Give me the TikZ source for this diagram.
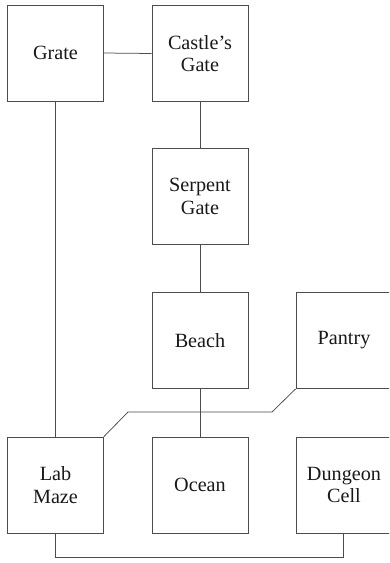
\documentclass[tikz,border=0pt]{standalone}
\usepackage{fontspec}
\setmainfont{Liberation Serif}
\begin{document}
\begin{tikzpicture}[x=1pt,y=-1pt,
  room/.style={draw=black!70, line width=0.75pt, minimum width=96pt, minimum height=96pt,
    inner sep=0pt, align=center, text=black!90, font=\fontsize{20.2}{22.5}\selectfont},
  link/.style={draw=black!70, line width=0.75pt}]
\useasboundingbox (0,0) rectangle (389,563);
\fill[white] (0,0) rectangle (389,563);
\clip (0,0) rectangle (389,563);
\node[room] (grate) at (55.5,53) {Grate};
\node[room] (castle) at (200,53.5) {Castle's\\Gate};
\node[room] (serpent) at (200,196.5) {Serpent\\Gate};
\node[room] (beach) at (200,340.5) {Beach};
\node[room] (pantry) at (344,340.5) {Pantry};
\node[room] (lab) at (55.5,485) {Lab\\Maze};
\node[room] (ocean) at (200,485) {Ocean};
\node[room] (dungeon) at (344,485) {Dungeon\\Cell};
\coordinate (p1) at (272,412);
\coordinate (p2) at (128,412);
\draw[link] (grate.east) -- (castle.west);
\draw[link] (castle.south) -- (serpent.north);
\draw[link] (serpent.south) -- (beach.north);
\draw[link] (beach.south) -- (ocean.north);
\draw[link] (grate.south) -- (lab.north);
\draw[link] (pantry.south west) -- (p1) -- (p2) -- (lab.north east);
\draw[link] (lab.south) -- ++(0,24) -| ([xshift=-1pt]dungeon.south);
\end{tikzpicture}
\end{document}
